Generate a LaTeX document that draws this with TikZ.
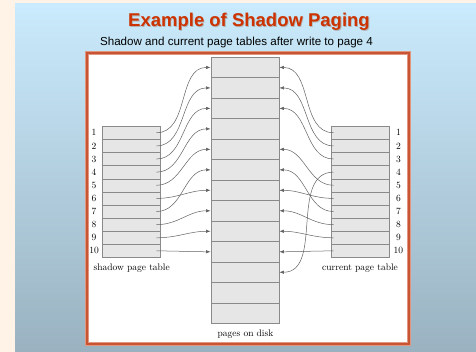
\documentclass[tikz,border=0pt]{standalone}
\usepackage{fontspec}
\usetikzlibrary{arrows.meta}
\newfontfamily\arialfont{Liberation Sans}
\definecolor{cream}{RGB}{254,243,230}
\definecolor{skytop}{RGB}{202,235,253}
\definecolor{skybot}{RGB}{154,178,192}
\definecolor{frameline}{RGB}{200,84,52}
\definecolor{framehalo}{RGB}{225,150,128}
\definecolor{titlered}{RGB}{204,51,0}
\definecolor{slotfill}{RGB}{230,230,230}
\definecolor{slotedge}{RGB}{138,138,138}
\begin{document}
\begin{tikzpicture}[x=1pt,y=-1pt,
  slot/.style={draw=slotedge,fill=slotfill,minimum width=58.3pt,minimum height=13.13pt,inner sep=0pt,anchor=north west},
  dslot/.style={draw=slotedge,fill=slotfill,minimum width=68.5pt,minimum height=20.48pt,inner sep=0pt,anchor=north west},
  num/.style={font=\fontsize{9.5}{10}\selectfont,inner sep=0pt},
  map/.style={draw=black!62,line width=0.5pt,-{Latex[length=4.5pt,width=3.4pt]}}]
\useasboundingbox (0,0) rectangle (476,352);
% slide background:
\fill[cream] (0,0) rectangle (476,352);
\shade[top color=skytop,bottom color=skybot] (15,4) rectangle (476,352);
\draw[framehalo,line width=4pt,fill=white] (87,53) rectangle (408.7,343.5);
\draw[frameline,line width=2pt] (87,53) rectangle (408.7,343.5);
% titles:
\node[text=black!30] (titleshade) at (249.8,22.8) {\arialfont\bfseries\fontsize{18.5}{20}\selectfont Example of Shadow Paging};
\node[text=titlered] (title) at (249,22) {\arialfont\bfseries\fontsize{18.5}{20}\selectfont Example of Shadow Paging};
\node (subtitle) at (236.5,43) {\arialfont\fontsize{11.6}{13}\selectfont Shadow and current page tables after write to page 4};
% pages on disk:
\foreach \j in {1,...,13}
  \node[dslot] (d\j) at (210.5,{57+20.48*(\j-1)}) {};
% page tables:
\foreach \i in {1,...,10}{
  \node[slot] (s\i) at (101.7,{126+13.13*(\i-1)}) {};
  \node[num] (sn\i) at ([xshift=-7.7pt]s\i.west) {\i};
  \node[slot] (c\i) at (331,{126+13.13*(\i-1)}) {};
  \node[num] (cn\i) at ([xshift=8.7pt]c\i.east) {\i};
}
% shadow entries:
\foreach \a/\b in {1/1,2/2,3/3,4/4,5/5,6/7,7/6,8/8,9/9,10/10}
  \draw[map] ([xshift=-4pt]s\a.east) to[out=0,in=180] (d\b.west);
% current entries:
\foreach \a/\b in {1/1,2/2,3/3,4/11,5/5,6/7,7/6,8/8,9/9,10/10}
  \draw[map] ([xshift=2.5pt]c\a.west) to[out=180,in=0] (d\b.east);
\node[num] (shadowlab) at (131.7,268) {shadow page table};
\node[num] (currentlab) at (360,268) {current page table};
\node[num] (disklab) at (245.5,334) {pages on disk};
\end{tikzpicture}
\end{document}
